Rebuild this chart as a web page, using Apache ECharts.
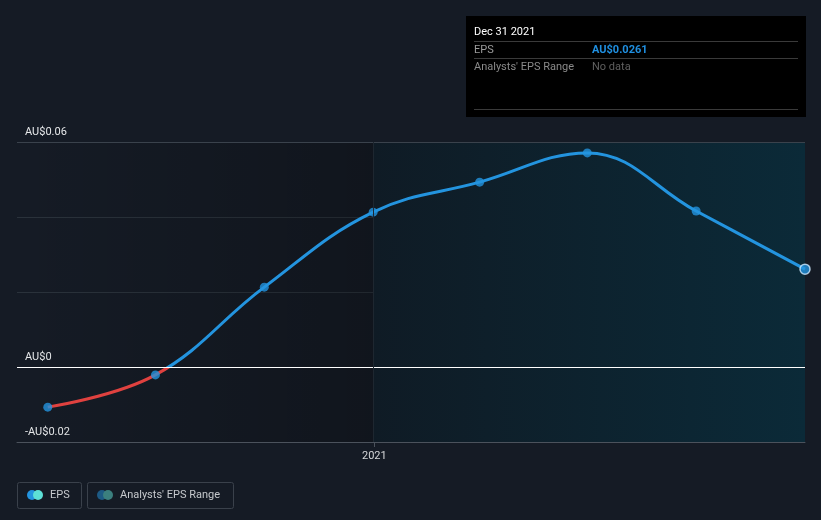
<!DOCTYPE html>
<html><head><meta charset="utf-8">
<script src="https://cdn.jsdelivr.net/npm/echarts@6/dist/echarts.min.js"></script>
<style>html,body{margin:0;padding:0;background:#151b25;}#c{width:821px;height:520px;}</style>
</head><body><div id="c"></div>
<script>
var dates = ['2020-03-31','2020-06-30','2020-09-30','2020-12-31','2021-03-31','2021-06-30','2021-09-30','2021-12-31'];
var eps = [-0.0107, -0.0021, 0.0213, 0.0413, 0.0493, 0.0571, 0.0416, 0.0261];
var yTickLabels = {'0.06':'AU$0.06','0':'AU$0','-0.02':'-AU$0.02'};
var xTicks = ['2021-01-01'];
var xTickLabels = ['2021'];
var xMin = '2020-03-05', xMax = '2021-12-31';
var forecastStart = '2020-12-31';

var t = function(s){ return new Date(s + 'T00:00:00Z').getTime(); };
var pts = dates.map(function(d,i){ return [t(d), eps[i]]; });
var lastPt = pts[pts.length-1];
var tickVals = xTicks.map(t);
var F = 'Roboto, "Noto Sans", sans-serif';

var chart = echarts.init(document.getElementById('c'));
chart.setOption({
  backgroundColor: '#151b25',
  animation: false,
  grid: {left: 17, right: 16, top: 142, bottom: 78},
  xAxis: {
    type: 'value', min: t(xMin), max: t(xMax),
    axisLine: {show: true, onZero: false, lineStyle: {color: '#4b525c', width: 1}},
    axisTick: {show: true, customValues: tickVals, length: 5, lineStyle: {color: '#4b525c'}},
    axisLabel: {customValues: tickVals, color: '#d4d6d9', fontSize: 11, fontFamily: F, margin: 9,
      formatter: function(v){ var i = tickVals.indexOf(v); return i >= 0 ? xTickLabels[i] : ''; }},
    splitLine: {show: false}
  },
  yAxis: {
    type: 'value', min: -0.02, max: 0.06, interval: 0.02,
    axisLine: {show: false}, axisTick: {show: false},
    splitLine: {lineStyle: {color: '#2a323b', width: 1}},
    axisLabel: {inside: true, color: '#e6e8ea', fontSize: 11, fontFamily: F, verticalAlign: 'bottom', margin: 8,
      padding: [0, 0, 4, 0],
      formatter: function(v){ var k = String(Math.round(v*100)/100); return yTickLabels[k] || ''; }}
  },
  visualMap: {
    show: false, type: 'piecewise', dimension: 1, seriesIndex: 0,
    pieces: [{min: -1, max: 0, color: '#e0413f'}, {min: 0, max: 1, color: '#2394df'}]
  },
  series: [
    {
      type: 'line', data: pts, smooth: 0.4, showSymbol: false, symbol: 'none',
      lineStyle: {width: 3}, z: 3,
      markArea: {silent: true, data: [
        [{xAxis: t(xMin), itemStyle: {color: {type: 'linear', x: 0, y: 0, x2: 1, y2: 0,
          colorStops: [{offset: 0, color: 'rgba(0,0,0,0)'}, {offset: 1, color: 'rgba(0,0,0,0.22)'}]}}}, {xAxis: t(forecastStart)}],
        [{xAxis: t(forecastStart), itemStyle: {color: {type: 'linear', x: 0, y: 0, x2: 1, y2: 0,
          colorStops: [{offset: 0, color: '#0f1b25'}, {offset: 1, color: '#0b2a38'}]}}}, {xAxis: t(xMax)}]
      ]},
      markLine: {silent: true, symbol: 'none', label: {show: false}, data: [
        {yAxis: 0, lineStyle: {color: '#ffffff', width: 1, type: 'solid'}},
        {yAxis: 0.06, lineStyle: {color: '#3a424c', width: 1, type: 'solid'}},
        {xAxis: t(forecastStart), lineStyle: {color: '#1e2730', width: 1, type: 'solid'}}
      ]}
    },
    {
      type: 'scatter', data: pts.slice(0, pts.length-1), symbolSize: 9,
      itemStyle: {color: '#2394df'}, z: 4
    },
    {
      type: 'scatter', data: [lastPt], symbolSize: 10, clip: true,
      itemStyle: {color: '#2394df', borderColor: '#cfeaff', borderWidth: 1.5}, z: 4
    }
  ],
  graphic: [
    {type: 'text', right: 24, top: 148, style: {text: 'Actual', fill: '#ffffff', font: '11px ' + F}},
    {type: 'rect', shape: {x: 466, y: 16, width: 340, height: 101}, style: {fill: '#000000'}},
    {type: 'text', x: 474, y: 27, style: {text: 'Dec 31 2021', fill: '#ffffff', font: '11px ' + F}},
    {type: 'line', shape: {x1: 474, y1: 41.5, x2: 798, y2: 41.5}, style: {stroke: '#3a3a3a', lineWidth: 1}},
    {type: 'text', x: 474, y: 45, style: {text: 'EPS', fill: '#9b9b9b', font: '11px ' + F}},
    {type: 'text', x: 592, y: 45, style: {text: 'AU$' + eps[eps.length-1].toFixed(4), fill: '#1f8fe0', font: 'bold 11px ' + F}},
    {type: 'line', shape: {x1: 474, y1: 58.5, x2: 798, y2: 58.5}, style: {stroke: '#3a3a3a', lineWidth: 1}},
    {type: 'text', x: 474, y: 62, style: {text: "Analysts' EPS Range", fill: '#8a8a8a', font: '11px ' + F}},
    {type: 'text', x: 592, y: 62, style: {text: 'No data', fill: '#5f5f5f', font: '11px ' + F}},
    {type: 'line', shape: {x1: 474, y1: 109.5, x2: 798, y2: 109.5}, style: {stroke: '#3a3a3a', lineWidth: 1}},
    {type: 'rect', shape: {x: 17.5, y: 482.5, width: 64, height: 26, r: 2}, style: {fill: 'none', stroke: '#3a414b', lineWidth: 1}},
    {type: 'circle', shape: {cx: 32, cy: 495, r: 5}, style: {fill: '#2394df'}},
    {type: 'circle', shape: {cx: 38, cy: 495, r: 5}, style: {fill: '#5de0d6'}},
    {type: 'text', x: 50, y: 490, style: {text: 'EPS', fill: '#c6c9cd', font: '11px ' + F}},
    {type: 'rect', shape: {x: 87.5, y: 482.5, width: 146, height: 26, r: 2}, style: {fill: 'none', stroke: '#3a414b', lineWidth: 1}},
    {type: 'circle', shape: {cx: 102, cy: 495, r: 5}, style: {fill: '#1d5a84'}},
    {type: 'circle', shape: {cx: 108, cy: 495, r: 5}, style: {fill: '#3b7f7e'}},
    {type: 'text', x: 120, y: 490, style: {text: "Analysts' EPS Range", fill: '#c6c9cd', font: '11px ' + F}}
  ]
});
</script></body></html>
